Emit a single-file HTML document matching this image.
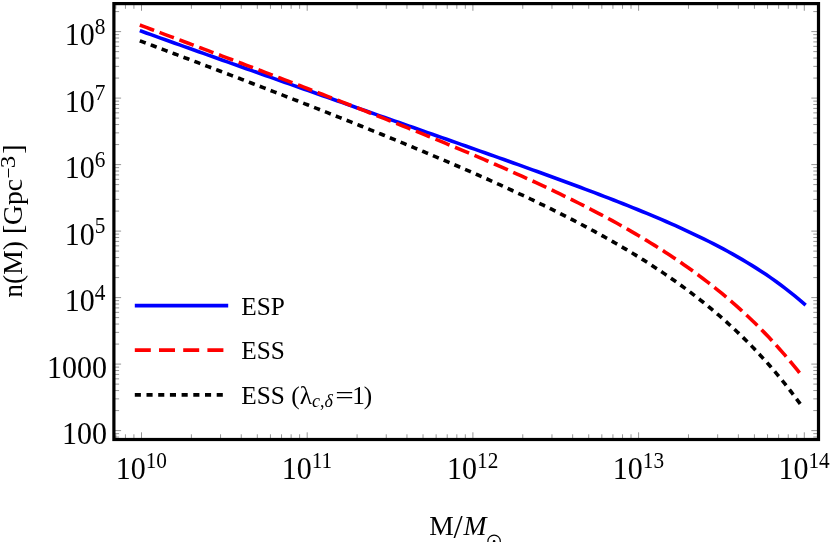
<!DOCTYPE html>
<html><head><meta charset="utf-8"><title>n(M)</title>
<style>
html,body{margin:0;padding:0;background:#fff;}
body{width:830px;height:542px;overflow:hidden;}
svg{display:block;will-change:transform;}
text{font-family:"Liberation Serif",serif;fill:#000;}
</style></head><body>
<svg width="830" height="542" viewBox="0 0 830 542">
<rect x="0" y="0" width="830" height="542" fill="#fff"/>
<g stroke="#000" stroke-width="0.8" stroke-opacity="0.52" fill="none">
<line x1="115.83" y1="439.5" x2="115.83" y2="434.30"/>
<line x1="115.83" y1="3.6" x2="115.83" y2="8.80"/>
<line x1="125.44" y1="439.5" x2="125.44" y2="434.30"/>
<line x1="125.44" y1="3.6" x2="125.44" y2="8.80"/>
<line x1="133.92" y1="439.5" x2="133.92" y2="434.30"/>
<line x1="133.92" y1="3.6" x2="133.92" y2="8.80"/>
<line x1="141.50" y1="439.5" x2="141.50" y2="432.30"/>
<line x1="141.50" y1="3.6" x2="141.50" y2="10.80"/>
<line x1="191.38" y1="439.5" x2="191.38" y2="434.30"/>
<line x1="191.38" y1="3.6" x2="191.38" y2="8.80"/>
<line x1="220.56" y1="439.5" x2="220.56" y2="434.30"/>
<line x1="220.56" y1="3.6" x2="220.56" y2="8.80"/>
<line x1="241.26" y1="439.5" x2="241.26" y2="434.30"/>
<line x1="241.26" y1="3.6" x2="241.26" y2="8.80"/>
<line x1="257.32" y1="439.5" x2="257.32" y2="434.30"/>
<line x1="257.32" y1="3.6" x2="257.32" y2="8.80"/>
<line x1="270.44" y1="439.5" x2="270.44" y2="434.30"/>
<line x1="270.44" y1="3.6" x2="270.44" y2="8.80"/>
<line x1="281.53" y1="439.5" x2="281.53" y2="434.30"/>
<line x1="281.53" y1="3.6" x2="281.53" y2="8.80"/>
<line x1="291.14" y1="439.5" x2="291.14" y2="434.30"/>
<line x1="291.14" y1="3.6" x2="291.14" y2="8.80"/>
<line x1="299.62" y1="439.5" x2="299.62" y2="434.30"/>
<line x1="299.62" y1="3.6" x2="299.62" y2="8.80"/>
<line x1="307.20" y1="439.5" x2="307.20" y2="432.30"/>
<line x1="307.20" y1="3.6" x2="307.20" y2="10.80"/>
<line x1="357.08" y1="439.5" x2="357.08" y2="434.30"/>
<line x1="357.08" y1="3.6" x2="357.08" y2="8.80"/>
<line x1="386.26" y1="439.5" x2="386.26" y2="434.30"/>
<line x1="386.26" y1="3.6" x2="386.26" y2="8.80"/>
<line x1="406.96" y1="439.5" x2="406.96" y2="434.30"/>
<line x1="406.96" y1="3.6" x2="406.96" y2="8.80"/>
<line x1="423.02" y1="439.5" x2="423.02" y2="434.30"/>
<line x1="423.02" y1="3.6" x2="423.02" y2="8.80"/>
<line x1="436.14" y1="439.5" x2="436.14" y2="434.30"/>
<line x1="436.14" y1="3.6" x2="436.14" y2="8.80"/>
<line x1="447.23" y1="439.5" x2="447.23" y2="434.30"/>
<line x1="447.23" y1="3.6" x2="447.23" y2="8.80"/>
<line x1="456.84" y1="439.5" x2="456.84" y2="434.30"/>
<line x1="456.84" y1="3.6" x2="456.84" y2="8.80"/>
<line x1="465.32" y1="439.5" x2="465.32" y2="434.30"/>
<line x1="465.32" y1="3.6" x2="465.32" y2="8.80"/>
<line x1="472.90" y1="439.5" x2="472.90" y2="432.30"/>
<line x1="472.90" y1="3.6" x2="472.90" y2="10.80"/>
<line x1="522.78" y1="439.5" x2="522.78" y2="434.30"/>
<line x1="522.78" y1="3.6" x2="522.78" y2="8.80"/>
<line x1="551.96" y1="439.5" x2="551.96" y2="434.30"/>
<line x1="551.96" y1="3.6" x2="551.96" y2="8.80"/>
<line x1="572.66" y1="439.5" x2="572.66" y2="434.30"/>
<line x1="572.66" y1="3.6" x2="572.66" y2="8.80"/>
<line x1="588.72" y1="439.5" x2="588.72" y2="434.30"/>
<line x1="588.72" y1="3.6" x2="588.72" y2="8.80"/>
<line x1="601.84" y1="439.5" x2="601.84" y2="434.30"/>
<line x1="601.84" y1="3.6" x2="601.84" y2="8.80"/>
<line x1="612.93" y1="439.5" x2="612.93" y2="434.30"/>
<line x1="612.93" y1="3.6" x2="612.93" y2="8.80"/>
<line x1="622.54" y1="439.5" x2="622.54" y2="434.30"/>
<line x1="622.54" y1="3.6" x2="622.54" y2="8.80"/>
<line x1="631.02" y1="439.5" x2="631.02" y2="434.30"/>
<line x1="631.02" y1="3.6" x2="631.02" y2="8.80"/>
<line x1="638.60" y1="439.5" x2="638.60" y2="432.30"/>
<line x1="638.60" y1="3.6" x2="638.60" y2="10.80"/>
<line x1="688.48" y1="439.5" x2="688.48" y2="434.30"/>
<line x1="688.48" y1="3.6" x2="688.48" y2="8.80"/>
<line x1="717.66" y1="439.5" x2="717.66" y2="434.30"/>
<line x1="717.66" y1="3.6" x2="717.66" y2="8.80"/>
<line x1="738.36" y1="439.5" x2="738.36" y2="434.30"/>
<line x1="738.36" y1="3.6" x2="738.36" y2="8.80"/>
<line x1="754.42" y1="439.5" x2="754.42" y2="434.30"/>
<line x1="754.42" y1="3.6" x2="754.42" y2="8.80"/>
<line x1="767.54" y1="439.5" x2="767.54" y2="434.30"/>
<line x1="767.54" y1="3.6" x2="767.54" y2="8.80"/>
<line x1="778.63" y1="439.5" x2="778.63" y2="434.30"/>
<line x1="778.63" y1="3.6" x2="778.63" y2="8.80"/>
<line x1="788.24" y1="439.5" x2="788.24" y2="434.30"/>
<line x1="788.24" y1="3.6" x2="788.24" y2="8.80"/>
<line x1="796.72" y1="439.5" x2="796.72" y2="434.30"/>
<line x1="796.72" y1="3.6" x2="796.72" y2="8.80"/>
<line x1="804.30" y1="439.5" x2="804.30" y2="432.30"/>
<line x1="804.30" y1="3.6" x2="804.30" y2="10.80"/>
<line x1="113.9" y1="437.04" x2="119.10" y2="437.04"/>
<line x1="818.5" y1="437.04" x2="813.30" y2="437.04"/>
<line x1="113.9" y1="433.64" x2="119.10" y2="433.64"/>
<line x1="818.5" y1="433.64" x2="813.30" y2="433.64"/>
<line x1="113.9" y1="430.60" x2="121.10" y2="430.60"/>
<line x1="818.5" y1="430.60" x2="811.30" y2="430.60"/>
<line x1="113.9" y1="410.58" x2="119.10" y2="410.58"/>
<line x1="818.5" y1="410.58" x2="813.30" y2="410.58"/>
<line x1="113.9" y1="398.87" x2="119.10" y2="398.87"/>
<line x1="818.5" y1="398.87" x2="813.30" y2="398.87"/>
<line x1="113.9" y1="390.56" x2="119.10" y2="390.56"/>
<line x1="818.5" y1="390.56" x2="813.30" y2="390.56"/>
<line x1="113.9" y1="384.12" x2="119.10" y2="384.12"/>
<line x1="818.5" y1="384.12" x2="813.30" y2="384.12"/>
<line x1="113.9" y1="378.85" x2="119.10" y2="378.85"/>
<line x1="818.5" y1="378.85" x2="813.30" y2="378.85"/>
<line x1="113.9" y1="374.40" x2="119.10" y2="374.40"/>
<line x1="818.5" y1="374.40" x2="813.30" y2="374.40"/>
<line x1="113.9" y1="370.54" x2="119.10" y2="370.54"/>
<line x1="818.5" y1="370.54" x2="813.30" y2="370.54"/>
<line x1="113.9" y1="367.14" x2="119.10" y2="367.14"/>
<line x1="818.5" y1="367.14" x2="813.30" y2="367.14"/>
<line x1="113.9" y1="364.10" x2="121.10" y2="364.10"/>
<line x1="818.5" y1="364.10" x2="811.30" y2="364.10"/>
<line x1="113.9" y1="344.08" x2="119.10" y2="344.08"/>
<line x1="818.5" y1="344.08" x2="813.30" y2="344.08"/>
<line x1="113.9" y1="332.37" x2="119.10" y2="332.37"/>
<line x1="818.5" y1="332.37" x2="813.30" y2="332.37"/>
<line x1="113.9" y1="324.06" x2="119.10" y2="324.06"/>
<line x1="818.5" y1="324.06" x2="813.30" y2="324.06"/>
<line x1="113.9" y1="317.62" x2="119.10" y2="317.62"/>
<line x1="818.5" y1="317.62" x2="813.30" y2="317.62"/>
<line x1="113.9" y1="312.35" x2="119.10" y2="312.35"/>
<line x1="818.5" y1="312.35" x2="813.30" y2="312.35"/>
<line x1="113.9" y1="307.90" x2="119.10" y2="307.90"/>
<line x1="818.5" y1="307.90" x2="813.30" y2="307.90"/>
<line x1="113.9" y1="304.04" x2="119.10" y2="304.04"/>
<line x1="818.5" y1="304.04" x2="813.30" y2="304.04"/>
<line x1="113.9" y1="300.64" x2="119.10" y2="300.64"/>
<line x1="818.5" y1="300.64" x2="813.30" y2="300.64"/>
<line x1="113.9" y1="297.60" x2="121.10" y2="297.60"/>
<line x1="818.5" y1="297.60" x2="811.30" y2="297.60"/>
<line x1="113.9" y1="277.58" x2="119.10" y2="277.58"/>
<line x1="818.5" y1="277.58" x2="813.30" y2="277.58"/>
<line x1="113.9" y1="265.87" x2="119.10" y2="265.87"/>
<line x1="818.5" y1="265.87" x2="813.30" y2="265.87"/>
<line x1="113.9" y1="257.56" x2="119.10" y2="257.56"/>
<line x1="818.5" y1="257.56" x2="813.30" y2="257.56"/>
<line x1="113.9" y1="251.12" x2="119.10" y2="251.12"/>
<line x1="818.5" y1="251.12" x2="813.30" y2="251.12"/>
<line x1="113.9" y1="245.85" x2="119.10" y2="245.85"/>
<line x1="818.5" y1="245.85" x2="813.30" y2="245.85"/>
<line x1="113.9" y1="241.40" x2="119.10" y2="241.40"/>
<line x1="818.5" y1="241.40" x2="813.30" y2="241.40"/>
<line x1="113.9" y1="237.54" x2="119.10" y2="237.54"/>
<line x1="818.5" y1="237.54" x2="813.30" y2="237.54"/>
<line x1="113.9" y1="234.14" x2="119.10" y2="234.14"/>
<line x1="818.5" y1="234.14" x2="813.30" y2="234.14"/>
<line x1="113.9" y1="231.10" x2="121.10" y2="231.10"/>
<line x1="818.5" y1="231.10" x2="811.30" y2="231.10"/>
<line x1="113.9" y1="211.08" x2="119.10" y2="211.08"/>
<line x1="818.5" y1="211.08" x2="813.30" y2="211.08"/>
<line x1="113.9" y1="199.37" x2="119.10" y2="199.37"/>
<line x1="818.5" y1="199.37" x2="813.30" y2="199.37"/>
<line x1="113.9" y1="191.06" x2="119.10" y2="191.06"/>
<line x1="818.5" y1="191.06" x2="813.30" y2="191.06"/>
<line x1="113.9" y1="184.62" x2="119.10" y2="184.62"/>
<line x1="818.5" y1="184.62" x2="813.30" y2="184.62"/>
<line x1="113.9" y1="179.35" x2="119.10" y2="179.35"/>
<line x1="818.5" y1="179.35" x2="813.30" y2="179.35"/>
<line x1="113.9" y1="174.90" x2="119.10" y2="174.90"/>
<line x1="818.5" y1="174.90" x2="813.30" y2="174.90"/>
<line x1="113.9" y1="171.04" x2="119.10" y2="171.04"/>
<line x1="818.5" y1="171.04" x2="813.30" y2="171.04"/>
<line x1="113.9" y1="167.64" x2="119.10" y2="167.64"/>
<line x1="818.5" y1="167.64" x2="813.30" y2="167.64"/>
<line x1="113.9" y1="164.60" x2="121.10" y2="164.60"/>
<line x1="818.5" y1="164.60" x2="811.30" y2="164.60"/>
<line x1="113.9" y1="144.58" x2="119.10" y2="144.58"/>
<line x1="818.5" y1="144.58" x2="813.30" y2="144.58"/>
<line x1="113.9" y1="132.87" x2="119.10" y2="132.87"/>
<line x1="818.5" y1="132.87" x2="813.30" y2="132.87"/>
<line x1="113.9" y1="124.56" x2="119.10" y2="124.56"/>
<line x1="818.5" y1="124.56" x2="813.30" y2="124.56"/>
<line x1="113.9" y1="118.12" x2="119.10" y2="118.12"/>
<line x1="818.5" y1="118.12" x2="813.30" y2="118.12"/>
<line x1="113.9" y1="112.85" x2="119.10" y2="112.85"/>
<line x1="818.5" y1="112.85" x2="813.30" y2="112.85"/>
<line x1="113.9" y1="108.40" x2="119.10" y2="108.40"/>
<line x1="818.5" y1="108.40" x2="813.30" y2="108.40"/>
<line x1="113.9" y1="104.54" x2="119.10" y2="104.54"/>
<line x1="818.5" y1="104.54" x2="813.30" y2="104.54"/>
<line x1="113.9" y1="101.14" x2="119.10" y2="101.14"/>
<line x1="818.5" y1="101.14" x2="813.30" y2="101.14"/>
<line x1="113.9" y1="98.10" x2="121.10" y2="98.10"/>
<line x1="818.5" y1="98.10" x2="811.30" y2="98.10"/>
<line x1="113.9" y1="78.08" x2="119.10" y2="78.08"/>
<line x1="818.5" y1="78.08" x2="813.30" y2="78.08"/>
<line x1="113.9" y1="66.37" x2="119.10" y2="66.37"/>
<line x1="818.5" y1="66.37" x2="813.30" y2="66.37"/>
<line x1="113.9" y1="58.06" x2="119.10" y2="58.06"/>
<line x1="818.5" y1="58.06" x2="813.30" y2="58.06"/>
<line x1="113.9" y1="51.62" x2="119.10" y2="51.62"/>
<line x1="818.5" y1="51.62" x2="813.30" y2="51.62"/>
<line x1="113.9" y1="46.35" x2="119.10" y2="46.35"/>
<line x1="818.5" y1="46.35" x2="813.30" y2="46.35"/>
<line x1="113.9" y1="41.90" x2="119.10" y2="41.90"/>
<line x1="818.5" y1="41.90" x2="813.30" y2="41.90"/>
<line x1="113.9" y1="38.04" x2="119.10" y2="38.04"/>
<line x1="818.5" y1="38.04" x2="813.30" y2="38.04"/>
<line x1="113.9" y1="34.64" x2="119.10" y2="34.64"/>
<line x1="818.5" y1="34.64" x2="813.30" y2="34.64"/>
<line x1="113.9" y1="31.60" x2="121.10" y2="31.60"/>
<line x1="818.5" y1="31.60" x2="811.30" y2="31.60"/>
<line x1="113.9" y1="11.58" x2="119.10" y2="11.58"/>
<line x1="818.5" y1="11.58" x2="813.30" y2="11.58"/>
</g>
<g fill="none" stroke-linejoin="round" stroke-linecap="square">
<path d="M141.50,31.23 L146.27,32.94 L151.04,34.65 L155.81,36.36 L160.57,38.07 L165.34,39.78 L170.11,41.49 L174.88,43.19 L179.65,44.90 L184.42,46.60 L189.18,48.31 L193.95,50.01 L198.72,51.71 L203.49,53.41 L208.26,55.12 L213.03,56.82 L217.79,58.51 L222.56,60.21 L227.33,61.91 L232.10,63.61 L236.87,65.30 L241.64,67.00 L246.40,68.69 L251.17,70.38 L255.94,72.07 L260.71,73.77 L265.48,75.46 L270.25,77.15 L275.01,78.83 L279.78,80.52 L284.55,82.21 L289.32,83.90 L294.09,85.58 L298.86,87.27 L303.62,88.95 L308.39,90.64 L313.16,92.32 L317.93,94.00 L322.70,95.68 L327.47,97.37 L332.23,99.05 L337.00,100.73 L341.77,102.41 L346.54,104.09 L351.31,105.76 L356.08,107.44 L360.84,109.12 L365.61,110.80 L370.38,112.48 L375.15,114.15 L379.92,115.83 L384.69,117.51 L389.45,119.18 L394.22,120.86 L398.99,122.53 L403.76,124.21 L408.53,125.89 L413.30,127.56 L418.06,129.24 L422.83,130.92 L427.60,132.60 L432.37,134.27 L437.14,135.95 L441.91,137.63 L446.67,139.31 L451.44,140.99 L456.21,142.67 L460.98,144.35 L465.75,146.04 L470.52,147.72 L475.28,149.41 L480.05,151.10 L484.82,152.79 L489.59,154.48 L494.36,156.17 L499.13,157.87 L503.89,159.57 L508.66,161.27 L513.43,162.97 L518.20,164.68 L522.97,166.39 L527.74,168.11 L532.50,169.82 L537.27,171.55 L542.04,173.27 L546.81,175.01 L551.58,176.74 L556.35,178.49 L561.11,180.24 L565.88,181.99 L570.65,183.76 L575.42,185.53 L580.19,187.31 L584.96,189.09 L589.72,190.89 L594.49,192.69 L599.26,194.51 L604.03,196.34 L608.80,198.18 L613.57,200.03 L618.33,201.90 L623.10,203.78 L627.87,205.67 L632.64,207.58 L637.41,209.51 L642.18,211.46 L646.94,213.43 L651.71,215.41 L656.48,217.42 L661.25,219.46 L666.02,221.52 L670.79,223.61 L675.55,225.72 L680.32,227.87 L685.09,230.05 L689.86,232.26 L694.63,234.51 L699.40,236.80 L704.16,239.13 L708.93,241.50 L713.70,243.92 L718.47,246.39 L723.24,248.91 L728.01,251.49 L732.77,254.13 L737.54,256.83 L742.31,259.60 L747.08,262.44 L751.85,265.36 L756.62,268.36 L761.38,271.44 L766.15,274.62 L770.92,277.89 L775.69,281.26 L780.46,284.75 L785.23,288.34 L789.99,292.07 L794.76,295.92 L799.53,299.91 L804.30,304.05" stroke="#0000ff" stroke-width="3.6"/>
<path d="M141.50,25.64 L146.25,27.42 L151.01,29.21 L155.76,30.99 L160.52,32.78 L165.27,34.57 L170.03,36.35 L174.78,38.14 L179.54,39.93 L184.29,41.72 L189.05,43.51 L193.80,45.31 L198.56,47.10 L203.31,48.89 L208.07,50.69 L212.82,52.49 L217.57,54.28 L222.33,56.08 L227.08,57.88 L231.84,59.68 L236.59,61.49 L241.35,63.29 L246.10,65.09 L250.86,66.90 L255.61,68.71 L260.37,70.52 L265.12,72.33 L269.88,74.15 L274.63,75.96 L279.39,77.78 L284.14,79.60 L288.89,81.42 L293.65,83.24 L298.40,85.07 L303.16,86.89 L307.91,88.72 L312.67,90.56 L317.42,92.39 L322.18,94.23 L326.93,96.07 L331.69,97.91 L336.44,99.76 L341.20,101.61 L345.95,103.46 L350.71,105.32 L355.46,107.18 L360.22,109.04 L364.97,110.91 L369.72,112.78 L374.48,114.65 L379.23,116.53 L383.99,118.42 L388.74,120.30 L393.50,122.20 L398.25,124.10 L403.01,126.00 L407.76,127.91 L412.52,129.82 L417.27,131.75 L422.03,133.67 L426.78,135.61 L431.54,137.55 L436.29,139.50 L441.04,141.45 L445.80,143.41 L450.55,145.38 L455.31,147.36 L460.06,149.35 L464.82,151.35 L469.57,153.35 L474.33,155.37 L479.08,157.39 L483.84,159.43 L488.59,161.48 L493.35,163.54 L498.10,165.61 L502.86,167.69 L507.61,169.79 L512.36,171.90 L517.12,174.03 L521.87,176.17 L526.63,178.32 L531.38,180.49 L536.14,182.68 L540.89,184.89 L545.65,187.11 L550.40,189.36 L555.16,191.62 L559.91,193.90 L564.67,196.21 L569.42,198.54 L574.18,200.89 L578.93,203.26 L583.68,205.67 L588.44,208.09 L593.19,210.55 L597.95,213.03 L602.70,215.55 L607.46,218.10 L612.21,220.68 L616.97,223.29 L621.72,225.94 L626.48,228.62 L631.23,231.35 L635.99,234.12 L640.74,236.92 L645.50,239.78 L650.25,242.67 L655.01,245.62 L659.76,248.61 L664.51,251.66 L669.27,254.76 L674.02,257.92 L678.78,261.14 L683.53,264.42 L688.29,267.76 L693.04,271.17 L697.80,274.65 L702.55,278.20 L707.31,281.83 L712.06,285.54 L716.82,289.33 L721.57,293.20 L726.33,297.17 L731.08,301.23 L735.83,305.39 L740.59,309.64 L745.34,314.01 L750.10,318.48 L754.85,323.07 L759.61,327.78 L764.36,332.62 L769.12,337.59 L773.87,342.69 L778.63,347.94 L783.38,353.33 L788.14,358.88 L792.89,364.59 L797.65,370.47 L802.40,376.52" stroke="#ff0000" stroke-width="3.6" stroke-dasharray="11.65 9.48"/>
<path d="M141.50,41.46 L146.27,43.24 L151.04,45.03 L155.81,46.81 L160.57,48.60 L165.34,50.39 L170.11,52.18 L174.88,53.97 L179.65,55.77 L184.42,57.57 L189.18,59.36 L193.95,61.17 L198.72,62.97 L203.49,64.78 L208.26,66.58 L213.03,68.40 L217.79,70.21 L222.56,72.02 L227.33,73.84 L232.10,75.66 L236.87,77.48 L241.64,79.31 L246.40,81.14 L251.17,82.97 L255.94,84.80 L260.71,86.64 L265.48,88.48 L270.25,90.32 L275.01,92.16 L279.78,94.01 L284.55,95.86 L289.32,97.71 L294.09,99.57 L298.86,101.43 L303.62,103.30 L308.39,105.16 L313.16,107.03 L317.93,108.91 L322.70,110.79 L327.47,112.67 L332.23,114.55 L337.00,116.45 L341.77,118.34 L346.54,120.24 L351.31,122.14 L356.08,124.05 L360.84,125.96 L365.61,127.88 L370.38,129.80 L375.15,131.73 L379.92,133.67 L384.69,135.60 L389.45,137.55 L394.22,139.50 L398.99,141.46 L403.76,143.42 L408.53,145.39 L413.30,147.37 L418.06,149.35 L422.83,151.34 L427.60,153.34 L432.37,155.35 L437.14,157.36 L441.91,159.39 L446.67,161.42 L451.44,163.46 L456.21,165.51 L460.98,167.57 L465.75,169.65 L470.52,171.73 L475.28,173.82 L480.05,175.93 L484.82,178.04 L489.59,180.17 L494.36,182.31 L499.13,184.47 L503.89,186.64 L508.66,188.82 L513.43,191.02 L518.20,193.23 L522.97,195.46 L527.74,197.71 L532.50,199.98 L537.27,202.26 L542.04,204.57 L546.81,206.89 L551.58,209.23 L556.35,211.60 L561.11,213.99 L565.88,216.40 L570.65,218.84 L575.42,221.30 L580.19,223.79 L584.96,226.31 L589.72,228.86 L594.49,231.44 L599.26,234.05 L604.03,236.69 L608.80,239.36 L613.57,242.08 L618.33,244.83 L623.10,247.62 L627.87,250.45 L632.64,253.32 L637.41,256.24 L642.18,259.20 L646.94,262.22 L651.71,265.28 L656.48,268.40 L661.25,271.57 L666.02,274.80 L670.79,278.09 L675.55,281.44 L680.32,284.86 L685.09,288.35 L689.86,291.91 L694.63,295.54 L699.40,299.25 L704.16,303.04 L708.93,306.92 L713.70,310.89 L718.47,314.94 L723.24,319.10 L728.01,323.36 L732.77,327.72 L737.54,332.19 L742.31,336.78 L747.08,341.49 L751.85,346.33 L756.62,351.29 L761.38,356.40 L766.15,361.64 L770.92,367.04 L775.69,372.60 L780.46,378.31 L785.23,384.20 L789.99,390.27 L794.76,396.52 L799.53,402.97 L804.30,409.62" stroke="#000" stroke-width="3.6" stroke-dasharray="2.7 8.96"/>
</g>
<rect x="113.9" y="3.6" width="704.6" height="435.9" fill="none" stroke="#000" stroke-width="3.2"/>
<g>
<text transform="translate(107.0,444.00) scale(1,1.06)" text-anchor="end" font-size="30.0">100</text>
<text transform="translate(107.0,377.50) scale(1,1.06)" text-anchor="end" font-size="30.0">1000</text>
<text transform="translate(105.3,311.00) scale(1,1.06)" text-anchor="end" font-size="30.0">10<tspan font-size="21.3" dy="-10.75">4</tspan></text>
<text transform="translate(105.3,244.50) scale(1,1.06)" text-anchor="end" font-size="30.0">10<tspan font-size="21.3" dy="-10.75">5</tspan></text>
<text transform="translate(105.3,178.00) scale(1,1.06)" text-anchor="end" font-size="30.0">10<tspan font-size="21.3" dy="-10.75">6</tspan></text>
<text transform="translate(105.3,111.50) scale(1,1.06)" text-anchor="end" font-size="30.0">10<tspan font-size="21.3" dy="-10.75">7</tspan></text>
<text transform="translate(105.3,45.00) scale(1,1.06)" text-anchor="end" font-size="30.0">10<tspan font-size="21.3" dy="-10.75">8</tspan></text>
<text transform="translate(141.30,479.2) scale(1,1.06)" text-anchor="middle" font-size="30.0">10<tspan font-size="21.3" dy="-10.75">10</tspan></text>
<text transform="translate(307.00,479.2) scale(1,1.06)" text-anchor="middle" font-size="30.0">10<tspan font-size="21.3" dy="-10.75">11</tspan></text>
<text transform="translate(472.70,479.2) scale(1,1.06)" text-anchor="middle" font-size="30.0">10<tspan font-size="21.3" dy="-10.75">12</tspan></text>
<text transform="translate(638.40,479.2) scale(1,1.06)" text-anchor="middle" font-size="30.0">10<tspan font-size="21.3" dy="-10.75">13</tspan></text>
<text transform="translate(804.10,479.2) scale(1,1.06)" text-anchor="middle" font-size="30.0">10<tspan font-size="21.3" dy="-10.75">14</tspan></text>
</g>
<!-- legend -->
<g fill="none">
<line x1="134.8" y1="305.7" x2="228.2" y2="305.7" stroke="#0000ff" stroke-width="3.8"/>
<line x1="134.8" y1="350.2" x2="228.2" y2="350.2" stroke="#ff0000" stroke-width="3.8" stroke-dasharray="16 8.2"/>
<line x1="134.8" y1="394.9" x2="228.2" y2="394.9" stroke="#000" stroke-width="3.8" stroke-dasharray="6.1 5.6"/>
</g>
<g font-size="25.3">
<text x="241.3" y="314.5">ESP</text>
<text x="241.3" y="359.2">ESS</text>
<text x="241.3" y="403.8">ESS (λ<tspan font-size="18" font-style="italic" dy="3.6">c</tspan><tspan font-size="18">,</tspan><tspan font-size="18" font-style="italic">δ</tspan></text>
<text transform="translate(335.25,403.8) scale(1.3,1)">=</text>
<text x="352.2" y="403.8">1</text>
<text x="363.7" y="403.8">)</text>
</g>
<!-- axis labels -->
<text x="429.2" y="534.6" font-size="27.6">M</text>
<text x="453.6" y="538.0" font-size="33">/</text>
<text x="463.4" y="534.6" font-size="27.6" font-style="italic">M</text>
<g fill="none" stroke="#000" stroke-width="1.2"><circle cx="494.1" cy="541.3" r="6.2"/></g>
<circle cx="494.1" cy="541.3" r="1.3" fill="#000"/>
<g transform="translate(22.3,0) rotate(-90)">
<text x="-297.7" y="0" font-size="27.6">n(M) [Gpc</text>
<text x="-178.6" y="-7.5" font-size="19.6">−</text>
<text transform="translate(-168.3,-7.6) scale(1.23,1)" font-size="20.1">3</text>
<text x="-153.7" y="0" font-size="27.6">]</text>
</g>
</svg>
</body></html>
